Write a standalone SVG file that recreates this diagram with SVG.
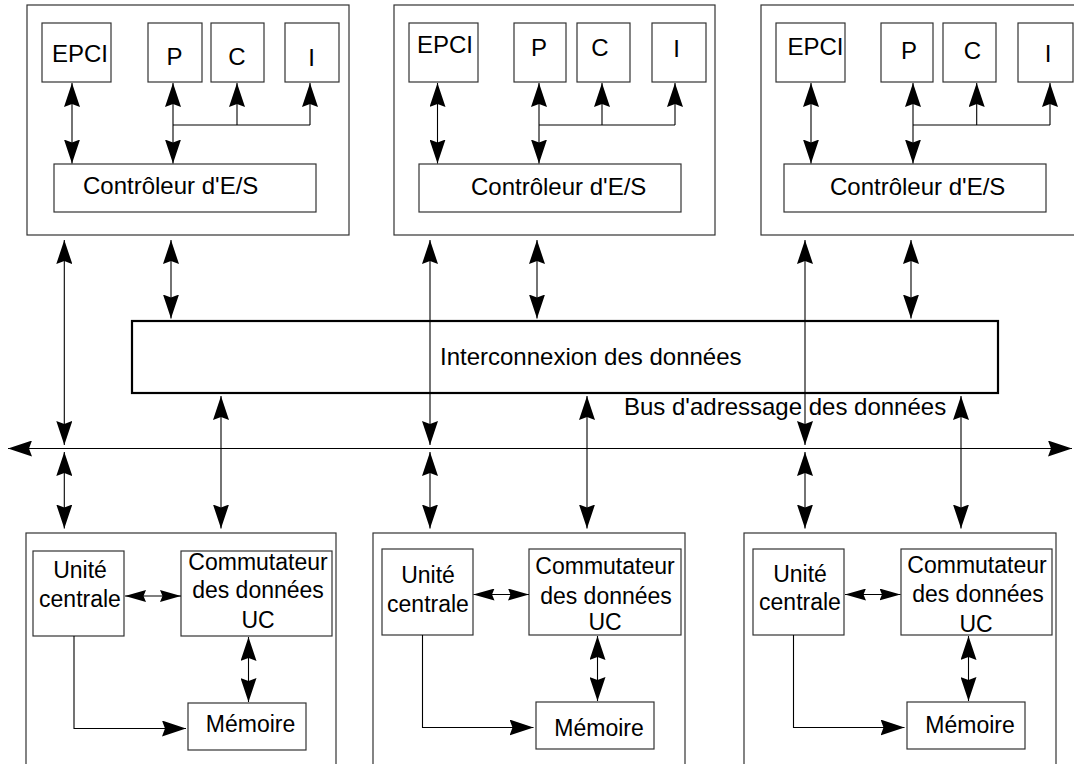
<svg xmlns="http://www.w3.org/2000/svg" width="1074" height="764" viewBox="0 0 1074 764">
<style>
  .box { fill: none; stroke: #333; stroke-width: 1.2; }
  .bus { fill: none; stroke: #000; stroke-width: 2.2; }
  .ln { fill: none; stroke: #000; stroke-width: 1.1; }
  .da { marker-start: url(#ah); marker-end: url(#ah); }
  .sa { marker-end: url(#ah); }
  .dsm { marker-start: url(#ahs); marker-end: url(#ahs); }
  text { font-family: "Liberation Sans", Arial, sans-serif; fill: #000; }
  .t { font-size: 24px; }
  .b { font-size: 23px; text-anchor: middle; }
  .m { text-anchor: middle; }
</style>
<defs>
  <marker id="ah" viewBox="0 0 24 16" refX="24" refY="8" markerWidth="24" markerHeight="16" markerUnits="userSpaceOnUse" orient="auto-start-reverse">
    <path d="M0,0 L24,8 L0,16 L3,8 Z" fill="#000"/>
  </marker>
  <marker id="ahs" viewBox="0 0 21 12" refX="21" refY="6" markerWidth="21" markerHeight="12" markerUnits="userSpaceOnUse" orient="auto-start-reverse">
    <path d="M0,0 L21,6 L0,12 L2.5,6 Z" fill="#000"/>
  </marker>
</defs>
<rect width="1074" height="764" fill="#fff"/>

<!-- Top module 1 -->
<g id="io1">
  <rect class="box" x="27" y="5" width="322" height="230"/>
  <g id="io1-epci"><rect class="box" x="42" y="23" width="69" height="59"/><text class="t m" x="80" y="62">EPCI</text></g>
  <g id="io1-p"><rect class="box" x="148" y="23" width="54" height="59"/><text class="t m" x="174.5" y="65">P</text></g>
  <g id="io1-c"><rect class="box" x="211" y="23" width="53" height="59"/><text class="t m" x="237" y="65">C</text></g>
  <g id="io1-i"><rect class="box" x="285" y="23" width="54" height="59"/><text class="t m" x="311.5" y="66">I</text></g>
  <g id="io1-ctrl"><rect class="box" x="54" y="164" width="262" height="48"/><text class="t" x="83" y="194">Contrôleur d'E/S</text></g>
</g>

<!-- Top module 2 -->
<g id="io2">
  <rect class="box" x="394" y="5" width="321" height="230"/>
  <g id="io2-epci"><rect class="box" x="409" y="23" width="69" height="59"/><text class="t m" x="445" y="53">EPCI</text></g>
  <g id="io2-p"><rect class="box" x="514" y="23" width="52" height="59"/><text class="t m" x="539" y="56">P</text></g>
  <g id="io2-c"><rect class="box" x="577" y="23" width="53" height="59"/><text class="t m" x="600" y="56">C</text></g>
  <g id="io2-i"><rect class="box" x="652" y="23" width="54" height="59"/><text class="t m" x="676.5" y="57">I</text></g>
  <g id="io2-ctrl"><rect class="box" x="419" y="164" width="262" height="48"/><text class="t" x="471" y="195">Contrôleur d'E/S</text></g>
</g>

<!-- Top module 3 -->
<g id="io3">
  <rect class="box" x="761" y="5" width="322" height="230"/>
  <g id="io3-epci"><rect class="box" x="776" y="23" width="69" height="59"/><text class="t m" x="815.5" y="54.5">EPCI</text></g>
  <g id="io3-p"><rect class="box" x="881" y="23" width="52" height="59"/><text class="t m" x="909" y="58.5">P</text></g>
  <g id="io3-c"><rect class="box" x="943" y="23" width="53" height="59"/><text class="t m" x="972.5" y="58.5">C</text></g>
  <g id="io3-i"><rect class="box" x="1018" y="23" width="55" height="59"/><text class="t m" x="1048" y="61.5">I</text></g>
  <g id="io3-ctrl"><rect class="box" x="784" y="164" width="262" height="48"/><text class="t" x="830" y="195">Contrôleur d'E/S</text></g>
</g>

<!-- Interconnect -->
<g id="interconnect">
  <rect class="bus" x="132" y="321" width="866" height="72"/>
  <text class="t" x="440" y="365">Interconnexion des données</text>
</g>

<!-- Bus label -->
<g id="bus-label">
  <text class="t" x="624" y="415">Bus d'adressage des données</text>
</g>

<!-- Bottom module 1 -->
<g id="cpu1">
  <rect class="box" x="26" y="533" width="310" height="260"/>
  <g id="cpu1-uc"><rect class="box" x="33" y="551" width="91" height="85"/><text class="b" x="80" y="578">Unité</text><text class="b" x="80" y="607">centrale</text></g>
  <g id="cpu1-sw"><rect class="box" x="181" y="551" width="151" height="85"/><text class="b" x="258" y="570">Commutateur</text><text class="b" x="258" y="598">des données</text><text class="b" x="258" y="628">UC</text></g>
  <g id="cpu1-mem"><rect class="box" x="188" y="703" width="118" height="47"/><text class="b" x="250.5" y="732">Mémoire</text></g>
</g>

<!-- Bottom module 2 -->
<g id="cpu2">
  <rect class="box" x="373" y="533" width="312" height="260"/>
  <g id="cpu2-uc"><rect class="box" x="382" y="549" width="91" height="86"/><text class="b" x="428" y="583">Unité</text><text class="b" x="428" y="612">centrale</text></g>
  <g id="cpu2-sw"><rect class="box" x="529" y="549" width="152" height="86"/><text class="b" x="605" y="574">Commutateur</text><text class="b" x="606" y="604">des données</text><text class="b" x="605" y="630">UC</text></g>
  <g id="cpu2-mem"><rect class="box" x="536" y="702" width="118" height="47"/><text class="b" x="599" y="736">Mémoire</text></g>
</g>

<!-- Bottom module 3 -->
<g id="cpu3">
  <rect class="box" x="744" y="533" width="312" height="260"/>
  <g id="cpu3-uc"><rect class="box" x="753" y="549" width="91" height="86"/><text class="b" x="800" y="582">Unité</text><text class="b" x="800" y="610">centrale</text></g>
  <g id="cpu3-sw"><rect class="box" x="901" y="549" width="151" height="86"/><text class="b" x="977" y="573">Commutateur</text><text class="b" x="978" y="602">des données</text><text class="b" x="976" y="632">UC</text></g>
  <g id="cpu3-mem"><rect class="box" x="907" y="702" width="118" height="47"/><text class="b" x="970" y="733">Mémoire</text></g>
</g>

<!-- Connectors -->
<g id="connectors">
  <line class="ln da" x1="72" y1="83" x2="72" y2="163.5"/>
  <line class="ln da" x1="173" y1="83" x2="173" y2="163.5"/>
  <line class="ln" x1="173" y1="125" x2="310" y2="125"/>
  <line class="ln sa" x1="237" y1="125" x2="237" y2="83"/>
  <line class="ln sa" x1="310" y1="125" x2="310" y2="83"/>

  <line class="ln da" x1="437.5" y1="83" x2="437.5" y2="163.5"/>
  <line class="ln da" x1="539" y1="83" x2="539" y2="163.5"/>
  <line class="ln" x1="539" y1="125" x2="675" y2="125"/>
  <line class="ln sa" x1="602" y1="125" x2="602" y2="83"/>
  <line class="ln sa" x1="675" y1="125" x2="675" y2="83"/>

  <line class="ln da" x1="811" y1="83" x2="811" y2="163.5"/>
  <line class="ln da" x1="913" y1="83" x2="913" y2="163.5"/>
  <line class="ln" x1="913" y1="125" x2="1050" y2="125"/>
  <line class="ln sa" x1="976.7" y1="125" x2="976.7" y2="83"/>
  <line class="ln sa" x1="1050" y1="125" x2="1050" y2="83"/>

  <line class="ln da" x1="8" y1="448.5" x2="1072" y2="448.5"/>

  <line class="ln da" x1="64.3" y1="240" x2="64.3" y2="445"/>
  <line class="ln da" x1="430" y1="240" x2="430" y2="445"/>
  <line class="ln da" x1="805" y1="240" x2="805" y2="445"/>
  <line class="ln da" x1="171" y1="240" x2="171" y2="318.5"/>
  <line class="ln da" x1="537" y1="240" x2="537" y2="318.5"/>
  <line class="ln da" x1="911" y1="240" x2="911" y2="318.5"/>
  <line class="ln da" x1="64.3" y1="452" x2="64.3" y2="528.5"/>
  <line class="ln da" x1="430" y1="452" x2="430" y2="528.5"/>
  <line class="ln da" x1="805" y1="452" x2="805" y2="528.5"/>
  <line class="ln da" x1="221" y1="396" x2="221" y2="528.5"/>
  <line class="ln da" x1="587" y1="396" x2="587" y2="528.5"/>
  <line class="ln da" x1="961" y1="396" x2="961" y2="528.5"/>

  <line class="ln dsm" x1="125" y1="596" x2="181" y2="596"/>
  <line class="ln da" x1="248.5" y1="637" x2="248.5" y2="702"/>
  <polyline class="ln sa" points="74,636 74,728.5 186,728.5"/>
  <line class="ln dsm" x1="473.5" y1="594.5" x2="529" y2="594.5"/>
  <line class="ln da" x1="597.5" y1="636" x2="597.5" y2="701"/>
  <polyline class="ln sa" points="422.5,635 422.5,727.5 533.5,727.5"/>
  <line class="ln dsm" x1="845" y1="594.5" x2="900.5" y2="594.5"/>
  <line class="ln da" x1="968.5" y1="636" x2="968.5" y2="701"/>
  <polyline class="ln sa" points="793.5,635 793.5,727.5 904.5,727.5"/>
</g>
</svg>
